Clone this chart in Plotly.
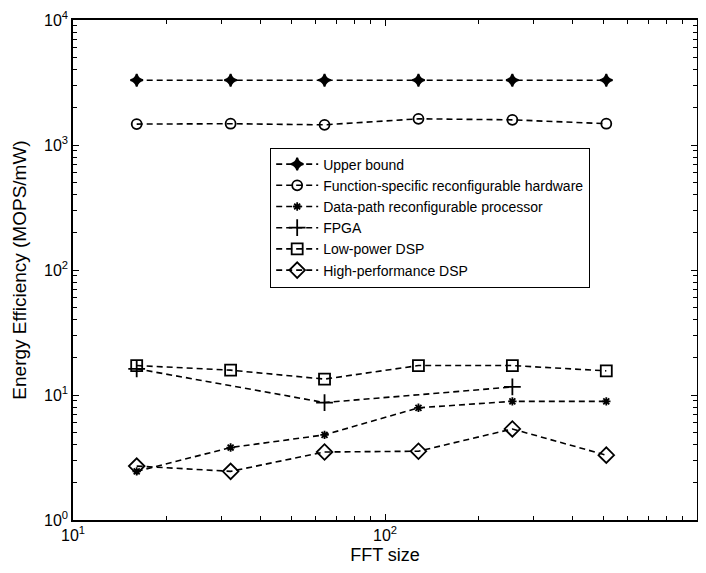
import plotly.graph_objects as go

fft_size = [16, 32, 64, 128, 256, 512]
fpga_size = [16, 64, 256]

upper_bound = [3300, 3300, 3300, 3300, 3300, 3300]
function_specific = [1470, 1480, 1450, 1620, 1590, 1480]
data_path = [2.45, 3.8, 4.8, 7.9, 8.9, 8.9]
fpga = [16.2, 8.7, 11.6]
low_power_dsp = [17.2, 15.8, 13.4, 17.2, 17.2, 15.6]
high_perf_dsp = [2.7, 2.45, 3.5, 3.55, 5.35, 3.3]

x_major = [10, 100, 1000]
x_major_text = ["10<sup>1</sup>", "10<sup>2</sup>", "10<sup>3</sup>"]
y_major = [1, 10, 100, 1000, 10000]
y_major_text = ["10<sup>0</sup>", "10<sup>1</sup>", "10<sup>2</sup>", "10<sup>3</sup>", "10<sup>4</sup>"]
digits = [2, 3, 4, 5, 6, 7, 8, 9]
x_minor = [d * m for m in [10, 100] for d in digits]
y_minor = [d * m for m in [1, 10, 100, 1000] for d in digits]

series = [
    ("Upper bound", fft_size, upper_bound, "star-diamond", 9),
    ("Function-specific reconfigurable hardware", fft_size, function_specific, "circle-open", 10),
    ("Data-path reconfigurable processor", fft_size, data_path, "asterisk-open", 7),
    ("FPGA", fpga_size, fpga, "cross-thin-open", 12),
    ("Low-power DSP", fft_size, low_power_dsp, "square-open", 11),
    ("High-performance DSP", fft_size, high_perf_dsp, "diamond-open", 12),
]

fig = go.Figure()
for name, xs, ys, sym, sz in series:
    fig.add_trace(go.Scatter(
        x=xs, y=ys, name=name, mode="lines+markers",
        line=dict(color="black", width=1.6, dash="6px,4px"),
        marker=dict(symbol=sym, size=sz, color="black",
                    line=dict(color="black", width=1.8)),
    ))

ff = "Liberation Sans, Arial, sans-serif"
font = dict(family=ff, size=14, color="black")

fig.update_layout(
    width=698, height=565,
    margin=dict(l=65, r=9, t=12, b=53),
    paper_bgcolor="white", plot_bgcolor="white",
    font=font,
    showlegend=True,
    legend=dict(
        x=0.316, y=0.745, xanchor="left", yanchor="top",
        bgcolor="white", bordercolor="black", borderwidth=1,
        font=dict(family=ff, size=14, color="black"),
        tracegroupgap=0, itemwidth=42,
    ),
    xaxis=dict(
        type="log", range=[1, 3],
        tickvals=x_major, ticktext=x_major_text,
        ticks="inside", ticklen=6, tickcolor="black",
        minor=dict(tickvals=x_minor, ticks="inside", ticklen=4, tickcolor="black", showgrid=False),
        showline=True, linecolor="black", linewidth=1.5, mirror="allticks",
        showgrid=False, zeroline=False, automargin=False,
        title=dict(text="FFT size", font=dict(family=ff, size=18, color="black"), standoff=5),
        tickfont=dict(family=ff, size=16, color="black"),
    ),
    yaxis=dict(
        type="log", range=[0, 4],
        tickvals=y_major, ticktext=y_major_text,
        ticks="inside", ticklen=6, tickcolor="black",
        minor=dict(tickvals=y_minor, ticks="inside", ticklen=4, tickcolor="black", showgrid=False),
        showline=True, linecolor="black", linewidth=1.5, mirror="allticks",
        showgrid=False, zeroline=False, automargin=False,
        title=dict(text="Energy Efficiency (MOPS/mW)", font=dict(family=ff, size=19, color="black"), standoff=12),
        tickfont=dict(family=ff, size=16, color="black"),
    ),
)

fig.write_html("out.html")
